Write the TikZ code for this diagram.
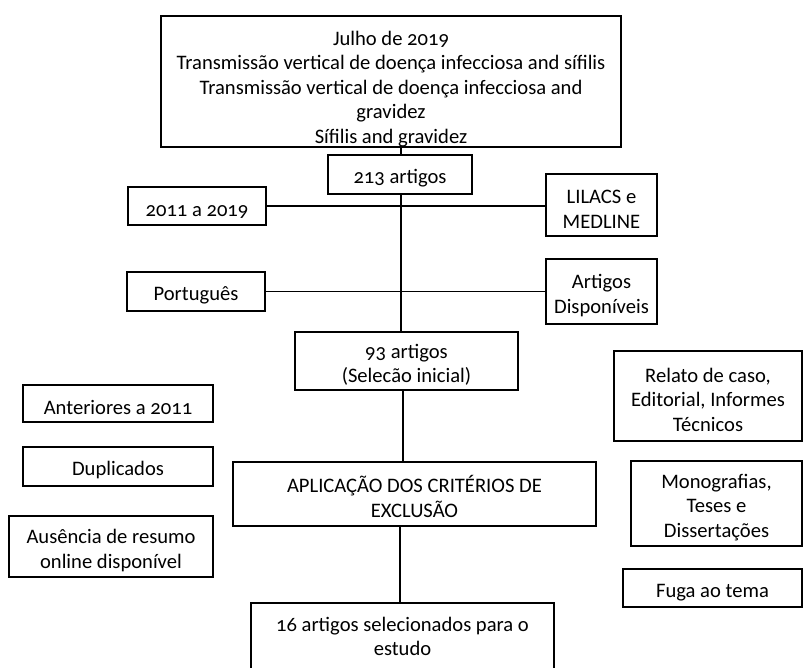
\documentclass[tikz,border=0pt]{standalone}
\usepackage{fontspec}
\setmainfont{Carlito}[Numbers=OldStyle]
\newcommand{\topstrut}[1]{\rule{0pt}{#1}}
\newcommand{\botstrut}[1]{\rule[-#1]{0pt}{0pt}}
\begin{document}
\begin{tikzpicture}[x=1pt,y=-1pt,
  box/.style={draw,line width=1.3pt,inner sep=0pt,align=center,font=\fontsize{20.6}{24.6}\selectfont},
  conn/.style={line width=1.3pt}]
\useasboundingbox (0,0) rectangle (803,668);
\begin{scope}
\clip (0,0) rectangle (803,668);
\node[box,minimum width=460,minimum height=131] (top) at (391,81.5)
  {\topstrut{29pt}Julho de 2019\\Transmissão vertical de doença infecciosa and sífilis\\Transmissão vertical de doença infecciosa and\\gravidez\\Sífilis and gravidez};
\node[box,minimum width=144,minimum height=39] (a213) at (400,174.5) {\topstrut{22pt}213 artigos};
\node[box,minimum width=138,minimum height=38] (y2011) at (197,206) {\topstrut{22pt}2011 a 2019};
\node[box,minimum width=111,minimum height=62] (lilacs) at (601.5,205) {\topstrut{22pt}LILACS e\\MEDLINE};
\node[box,minimum width=138,minimum height=39] (port) at (196,291.5) {\topstrut{22pt}Português};
\node[box,minimum width=111,minimum height=65] (disp) at (601.5,291.5) {\topstrut{22pt}Artigos\\Disponíveis};
\node[box,minimum width=223,minimum height=58] (a93) at (406.5,361) {\topstrut{22pt}93 artigos\\(Selecão inicial)};
\node[box,minimum width=188,minimum height=90] (relato) at (708,396) {\topstrut{22pt}Relato de caso,\\Editorial, Informes\\Técnicos};
\node[box,minimum width=190,minimum height=37] (anter) at (118,403.5) {\topstrut{22pt}Anteriores a 2011};
\node[box,minimum width=190,minimum height=39] (dupl) at (118,466.5) {\topstrut{22pt}Duplicados};
\node[box,minimum width=363,minimum height=64] (aplic) at (414.5,494) {\topstrut{22pt}APLICAÇÃO DOS CRITÉRIOS DE\\EXCLUSÃO};
\node[box,minimum width=171,minimum height=85] (mono) at (716.5,503.5) {\topstrut{22pt}Monografias,\\Teses e\\Dissertações};
\node[box,minimum width=204,minimum height=61] (ausen) at (111,546.5) {\topstrut{22pt}Ausência de resumo\\online disponível};
\node[box,minimum width=179,minimum height=38] (fuga) at (712.5,588) {\topstrut{22pt}Fuga ao tema};
\node[box,minimum width=303,minimum height=80] (a16) at (402.5,643) {\topstrut{22pt}16 artigos selecionados para o\\estudo\botstrut{21pt}};
\coordinate (j1) at (401,204);
\draw[conn] (top.south -| j1) -- (a213.north -| j1);
\draw[conn] (a213.south -| j1) -- (a93.north -| j1);
\draw[conn] (y2011.east) -- (lilacs.west |- y2011.east);
\draw[conn] (port.east) -- (disp.west |- port.east);
\draw[conn] ([xshift=-3.5pt]a93.south) -- ([xshift=-11.5pt]aplic.north);
\draw[conn] ([xshift=-14.5pt]aplic.south) -- ([xshift=-2.5pt]a16.north);
\end{scope}
\end{tikzpicture}
\end{document}
